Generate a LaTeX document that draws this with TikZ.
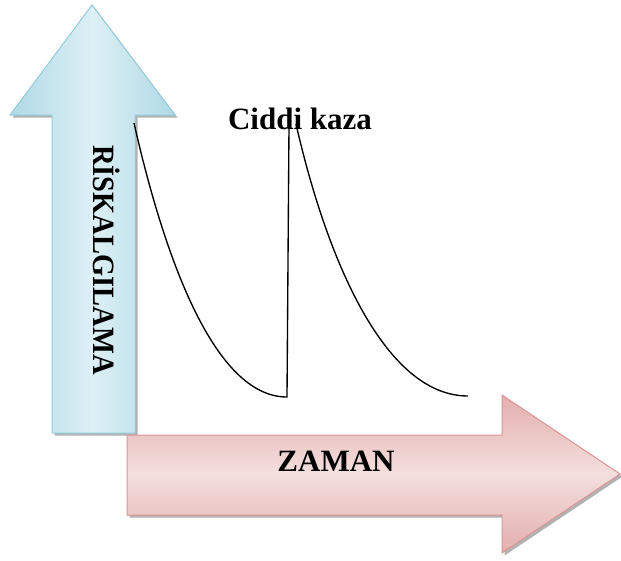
\documentclass[tikz,border=0pt]{standalone}
\usepackage{fontspec}
\setmainfont{Liberation Serif}
\usetikzlibrary{shadows}

\definecolor{riskfill}{HTML}{DDF0F5}
\definecolor{riskdark}{HTML}{AFD9E5}
\definecolor{riskline}{HTML}{93CDDD}
\definecolor{zamanfill}{HTML}{F3DFDE}
\definecolor{zamandark}{HTML}{E3AEAD}
\definecolor{zamanline}{HTML}{D99694}

\begin{document}
\begin{tikzpicture}[x=1pt,y=-1pt,
        bigarrow/.style={line width=1pt,line join=miter,
            drop shadow={shadow xshift=2.5pt,shadow yshift=-2.5pt,fill=black!55,opacity=0.55}},
        bigtext/.style={font=\bfseries\fontsize{31}{31}\selectfont,inner sep=0pt},
        riskcurve/.style={line width=1.35pt}]
    \useasboundingbox (0,0) rectangle (621,560);

    % vertical arrow
    \draw[bigarrow,draw=riskline,left color=riskdark,right color=riskdark,middle color=riskfill]
        (92,5) -- (175,115) -- (135,115) -- (135,433)
        -- (52,433) -- (52,115) -- (10,115) -- cycle;

    % horizontal arrow
    \draw[bigarrow,draw=zamanline,top color=zamandark,bottom color=zamandark,middle color=zamanfill]
        (127,435) -- (502,435) -- (502,395) -- (620,474)
        -- (502,553) -- (502,515) -- (127,515) -- cycle;

    \node[bigtext,anchor=base,rotate=-90] (risk) at (93.5,260) {\scalebox{0.92}[1]{RİSKALGILAMA}};
    \node[bigtext,anchor=base] (zaman) at (336,471.5) {ZAMAN};
    \node[bigtext,anchor=base] (kaza) at (300,129.5) {Ciddi kaza};

    \coordinate (r0) at (134,123);
    \coordinate (r1) at (287,397);
    \coordinate (k0) at (289,126);
    \coordinate (k1) at (296,124);
    \coordinate (k2) at (468,396);

    \draw[riskcurve] (r0) .. controls (165,260) and (215,397) .. (r1) -- (k0);
    \draw[riskcurve] (k1) .. controls (327,260) and (385,396) .. (k2);
\end{tikzpicture}
\end{document}
